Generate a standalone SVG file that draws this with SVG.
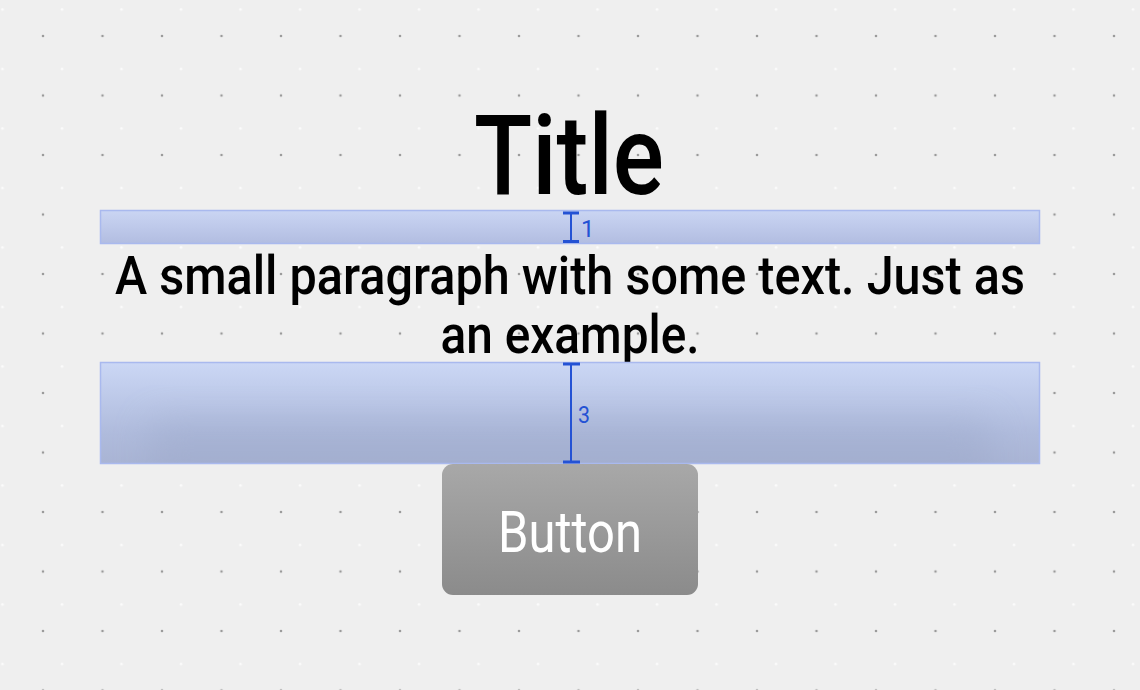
<svg xmlns="http://www.w3.org/2000/svg" width="1140" height="690" viewBox="0 0 1140 690">
<defs>
<pattern id="dots" x="13.25" y="6.25" width="59.5" height="59.5" patternUnits="userSpaceOnUse">
<circle cx="29.75" cy="29.75" r="1.3" fill="#9a9a9a"/>
<circle cx="48.75" cy="3.25" r="1.3" fill="#ffffff" opacity="0.8"/>
</pattern>
<linearGradient id="sp1" x1="0" y1="0" x2="0" y2="1">
<stop offset="0" stop-color="#cad5f3"/>
<stop offset="1" stop-color="#b2bde1"/>
</linearGradient>
<linearGradient id="sp2" x1="0" y1="0" x2="0" y2="1">
<stop offset="0" stop-color="#cbd7f5"/>
<stop offset="0.7" stop-color="#afbbdc"/>
<stop offset="1" stop-color="#a9b4d4"/>
</linearGradient>
<linearGradient id="btn" x1="0" y1="0" x2="0" y2="1">
<stop offset="0" stop-color="#a8a8a8"/>
<stop offset="1" stop-color="#8b8b8b"/>
</linearGradient>
<filter id="blur" x="-20%" y="-50%" width="140%" height="200%">
<feGaussianBlur stdDeviation="18"/>
</filter>
<clipPath id="clip2"><rect x="100" y="362" width="940" height="102"/></clipPath>
<style>
.spacer { stroke:#a9b9ee; stroke-width:1.5; }
.beam { stroke:#2452d4; fill:none; }
.beam-v { stroke-width:2; }
.beam-c { stroke-width:3; }
.lbl { font-family:Roboto, "Liberation Sans", sans-serif; fill:#2452d4; }
.txt { font-family:Roboto, "Liberation Sans", sans-serif; fill:#000; font-weight:500; }
</style>
</defs>
<rect width="1140" height="690" fill="#efefef"/>
<rect width="1140" height="690" fill="url(#dots)"/>

<g id="title">
<text class="txt" x="569" y="194" font-size="112" text-anchor="middle" textLength="190" lengthAdjust="spacingAndGlyphs">Title</text>
</g>

<g id="spacer1">
<rect class="spacer" x="100.5" y="210.5" width="939" height="33" fill="url(#sp1)"/>
<line class="beam beam-v" x1="571" y1="212" x2="571" y2="242"/>
<line class="beam beam-c" x1="563" y1="213" x2="579" y2="213"/>
<line class="beam beam-c" x1="563" y1="241.5" x2="579" y2="241.5"/>
<text class="lbl" x="581" y="237" font-size="24">1</text>
</g>

<g id="paragraph">
<text class="txt" x="570" y="294" font-size="53" text-anchor="middle" textLength="910" lengthAdjust="spacingAndGlyphs">A small paragraph with some text. Just as</text>
<text class="txt" x="570" y="353" font-size="53" text-anchor="middle" textLength="259" lengthAdjust="spacingAndGlyphs">an example.</text>
</g>

<g id="spacer2">
<rect x="100.5" y="362.5" width="939" height="101" fill="url(#sp2)"/>
<g clip-path="url(#clip2)">
<rect x="150" y="420" width="840" height="70" fill="#98a4c6" opacity="0.35" filter="url(#blur)"/>
</g>
<rect class="spacer" x="100.5" y="362.5" width="939" height="101" fill="none"/>
<line class="beam beam-v" x1="571" y1="364" x2="571" y2="462"/>
<line class="beam beam-c" x1="563" y1="364" x2="580" y2="364"/>
<line class="beam beam-c" x1="563" y1="462" x2="580" y2="462"/>
<text class="lbl" x="578" y="423" font-size="24" textLength="12" lengthAdjust="spacingAndGlyphs">3</text>
</g>

<g id="button">
<rect x="442" y="464" width="256" height="131" rx="11" fill="url(#btn)"/>
<text x="570" y="552" font-family="Roboto, 'Liberation Sans', sans-serif" font-size="58" fill="#ffffff" text-anchor="middle" textLength="144" lengthAdjust="spacingAndGlyphs">Button</text>
</g>

<g id="connectors"></g>
</svg>
